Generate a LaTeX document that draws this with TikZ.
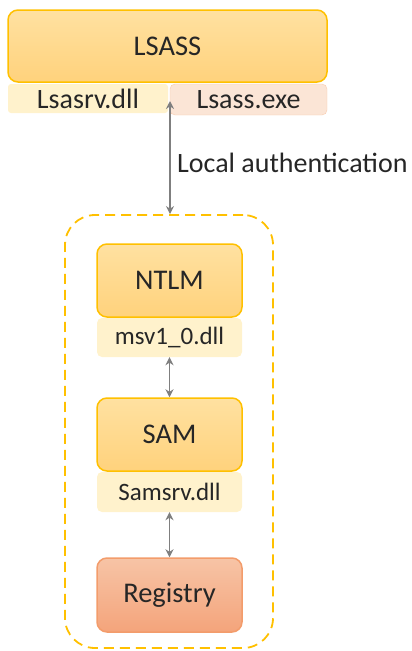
\documentclass[tikz,border=0pt]{standalone}
\usepackage{fontspec}
\setmainfont{Carlito}
\usetikzlibrary{arrows.meta}
\definecolor{gold}{HTML}{FFC000}
\definecolor{goldtop}{HTML}{FFE1A1}
\definecolor{goldbot}{HTML}{FFD27C}
\definecolor{dllfill}{HTML}{FFF2CC}
\definecolor{exefill}{HTML}{FBE5D6}
\definecolor{exeline}{HTML}{F8CBAD}
\definecolor{regtop}{HTML}{F7C4A6}
\definecolor{regbot}{HTML}{F4A47B}
\definecolor{regline}{HTML}{F39C6B}
\definecolor{arrowgray}{HTML}{7F7F7F}
\tikzstyle{every node}=[text=black!85]
\tikzstyle{module}=[draw=gold,line width=1.5pt,rounded corners=10pt,top color=goldtop,bottom color=goldbot,font=\fontsize{28.5}{31}\selectfont]
\tikzstyle{dll}=[fill=dllfill,rounded corners=5pt,font=\fontsize{25}{27}\selectfont]
\tikzstyle{exe}=[draw=exeline,fill=exefill,rounded corners=5pt,font=\fontsize{28}{30}\selectfont]
\tikzstyle{store}=[draw=regline,line width=1.5pt,rounded corners=10pt,top color=regtop,bottom color=regbot,font=\fontsize{28.5}{31}\selectfont]
\tikzstyle{local}=[draw=gold,line width=1.8pt,dash pattern=on 10pt off 6pt,rounded corners=30pt]
\tikzstyle{link}=[draw=arrowgray,line width=1.8pt,{Stealth[length=8pt,width=8pt]}-{Stealth[length=8pt,width=8pt]}]

\begin{document}
\begin{tikzpicture}[x=1pt,y=-1pt]
  \useasboundingbox (0,0) rectangle (412,651);
  \node[module,minimum width=319pt,minimum height=72pt] (lsass) at (167.5,46) {LSASS};
  \node[dll,rounded corners=3pt,minimum width=160pt,minimum height=29pt,font=\fontsize{28}{30}\selectfont] (lsasrv) at (88,98.5) {Lsasrv.dll};
  \node[exe,minimum width=157pt,minimum height=31pt] (lsassexe) at (248.5,99.5) {Lsass.exe};
  \node[local,minimum width=208pt,minimum height=433pt] (msvscope) at (169,431.5) {};
  \node[module,minimum width=145pt,minimum height=73pt] (ntlm) at (169.5,280.5) {NTLM};
  \node[dll,minimum width=145pt,minimum height=39pt] (msv) at (169.5,337.5) {msv1\_0.dll};
  \node[module,minimum width=145pt,minimum height=73pt] (sam) at (169.5,434.5) {SAM};
  \node[dll,minimum width=145pt,minimum height=40pt] (samsrv) at (169.5,492) {Samsrv.dll};
  \node[store,minimum width=145pt,minimum height=74pt] (registry) at (169.5,595) {Registry};
  \coordinate (auth) at (170,101);
  \draw[link] (auth) -- (auth |- msvscope.north);
  \node[anchor=base west,inner sep=0pt,font=\fontsize{28}{30}\selectfont] (authlabel) at (177,172) {Local authentication};
  \draw[link] (msv.south) -- (sam.north);
  \draw[link] (samsrv.south) -- (registry.north);
\end{tikzpicture}
\end{document}
